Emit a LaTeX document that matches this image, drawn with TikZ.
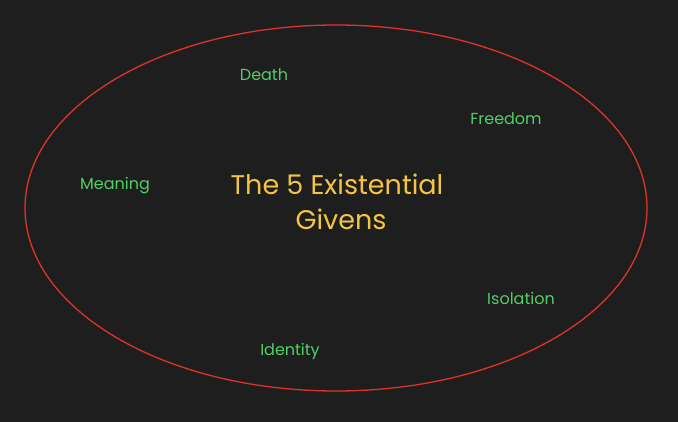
\documentclass[tikz,border=0pt]{standalone}
\usepackage{fontspec}
\setmainfont{Poppins}
\definecolor{bgdark}{HTML}{1E1E1E}
\definecolor{ringred}{HTML}{E03131}
\definecolor{titleyellow}{HTML}{F5C542}
\definecolor{givengreen}{HTML}{51CF66}
\tikzset{
  given/.style={text=givengreen, font=\fontsize{16}{18}\selectfont, inner sep=1pt},
  title/.style={text=titleyellow, font=\fontsize{27}{35}\selectfont, align=center, inner sep=1pt}
}
\begin{document}
\begin{tikzpicture}[x=1pt, y=-1pt]
    % Background
    \fill [bgdark] (0,0) rectangle (678,422);
    \useasboundingbox (0,0) rectangle (678,422);

    % Ring
    \draw [ringred, line width=1.3pt] (336,208) ellipse [x radius=311, y radius=183];

    % Title
    \node [title] (givens) at (337,202) {The 5 Existential\\\hspace*{8pt}Givens};

    % Givens
    \node [given] (death) at (264,75) {Death};
    \node [given] (freedom) at (506,119) {Freedom};
    \node [given] (meaning) at (115,186) {Meaning};
    \node [given] (isolation) at (521,298) {Isolation};
    \node [given] (identity) at (290,351) {Identity};
\end{tikzpicture}
\end{document}
